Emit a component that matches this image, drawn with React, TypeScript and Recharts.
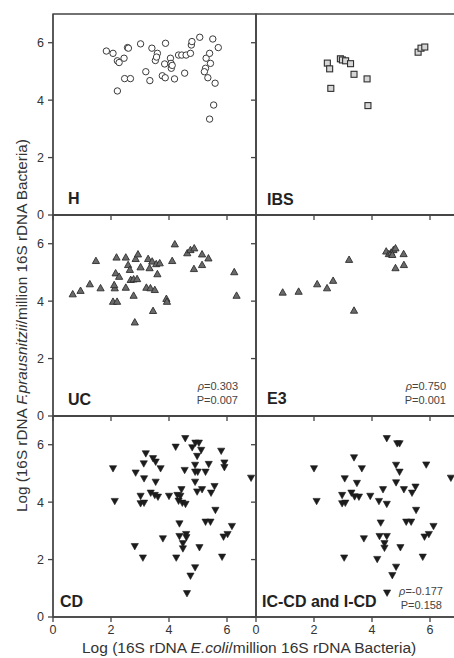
import React from 'react';
import { ScatterChart, Scatter, XAxis, YAxis, ReferenceArea } from 'recharts';

const X_TICKS = [0, 2, 4, 6];
const Y_TICKS = [0, 2, 4, 6];

const H_POINTS: [number, number][] = [
  [1.84, 5.71], [2.07, 5.63], [2.22, 5.37], [2.28, 5.31], [2.45, 5.46], [2.57, 5.83], [2.60, 5.81],
  [2.22, 4.32], [2.47, 4.75], [2.67, 4.75], [3.02, 5.96], [3.20, 4.99], [3.34, 4.68], [3.41, 5.81],
  [3.60, 5.63], [3.53, 5.38], [3.57, 5.50], [3.77, 4.85], [3.85, 5.26], [3.87, 4.78], [3.88, 5.98],
  [4.05, 5.46], [4.07, 5.28], [4.08, 5.11], [4.11, 5.21], [4.19, 4.74], [4.33, 5.57], [4.44, 5.57],
  [4.59, 5.57], [4.54, 4.94], [4.74, 5.63], [4.77, 5.92], [4.79, 6.04], [5.06, 6.19], [5.26, 5.11],
  [5.28, 5.46], [5.40, 5.63], [5.43, 5.28], [5.22, 4.99], [5.34, 4.78], [5.51, 6.13], [5.59, 4.59],
  [5.70, 5.83], [5.54, 3.83], [5.40, 3.34],
];

const IBS_POINTS: [number, number][] = [
  [2.46, 5.29], [2.54, 5.09], [2.58, 4.41], [2.91, 5.44], [2.98, 5.40], [3.09, 5.37], [3.26, 5.27],
  [3.38, 4.90], [3.83, 4.74], [3.86, 3.81], [5.59, 5.67], [5.69, 5.81], [5.82, 5.85],
];

const UC_POINTS: [number, number][] = [
  [0.68, 4.24], [0.95, 4.36], [1.27, 4.59], [1.48, 5.40], [1.64, 4.45], [2.07, 3.98], [2.21, 3.98],
  [2.13, 4.45], [2.11, 4.56], [2.16, 4.97], [2.28, 4.85], [2.19, 5.52], [2.51, 5.52], [2.51, 4.47],
  [2.59, 5.26], [2.65, 5.09], [2.68, 4.74], [2.78, 4.76], [2.78, 4.19], [2.82, 3.26], [2.85, 5.47],
  [2.93, 5.63], [3.02, 5.18], [2.90, 4.77], [3.22, 4.47], [3.28, 5.47], [3.33, 5.15], [3.42, 5.38],
  [3.36, 4.45], [3.51, 4.39], [3.45, 3.66], [3.56, 5.29], [3.68, 5.32], [3.60, 4.94], [3.91, 4.08],
  [3.93, 3.98], [4.11, 5.40], [4.20, 5.98], [4.63, 5.67], [4.74, 5.78], [4.87, 5.84], [4.86, 5.12],
  [5.14, 5.63], [5.36, 5.49], [5.14, 5.26], [6.25, 5.01], [6.33, 4.19],
];

const E3_POINTS: [number, number][] = [
  [0.92, 4.30], [1.47, 4.33], [2.11, 4.59], [2.45, 4.45], [2.66, 4.71], [3.21, 5.44], [3.38, 3.67],
  [4.49, 5.73], [4.58, 5.64], [4.66, 5.69], [4.74, 5.78], [4.81, 5.84], [4.70, 5.61], [5.09, 5.64],
  [4.81, 5.15], [5.10, 5.26],
];

const CD_POINTS: [number, number][] = [
  [2.07, 5.18], [2.13, 4.04], [2.82, 2.47], [2.85, 5.03], [3.10, 2.07], [3.02, 4.22], [3.02, 3.96],
  [3.14, 3.98], [3.13, 5.35], [3.14, 4.83], [3.20, 5.70], [3.37, 4.33], [3.45, 5.53], [3.51, 4.25],
  [3.54, 5.41], [3.54, 4.71], [3.62, 4.19], [3.71, 5.18], [3.79, 2.74], [4.00, 4.22], [4.23, 5.93],
  [4.25, 2.07], [4.29, 4.25], [4.33, 4.05], [4.36, 3.26], [4.36, 2.82], [4.39, 4.22], [4.43, 4.45],
  [4.46, 3.98], [4.48, 2.57], [4.48, 2.39], [4.54, 5.12], [4.56, 6.23], [4.57, 3.94], [4.59, 2.89],
  [4.60, 2.78], [4.62, 0.83], [4.74, 1.44], [4.80, 5.91], [4.90, 1.73], [4.91, 6.07], [5.03, 6.07],
  [4.97, 5.61], [4.90, 5.30], [4.90, 5.06], [4.99, 5.06], [5.11, 5.82], [4.90, 4.71], [4.97, 4.37],
  [5.05, 2.43], [5.14, 4.45], [5.26, 5.06], [5.37, 5.33], [5.26, 3.32], [5.43, 3.32], [5.45, 4.33],
  [5.57, 4.56], [5.60, 3.73], [5.80, 5.79], [5.83, 2.10], [5.88, 2.80], [5.91, 5.38], [5.91, 5.22],
  [6.02, 2.89], [6.17, 3.17], [6.83, 4.85],
];

const ICCD_POINTS: [number, number][] = [
  [2.00, 5.18], [2.09, 4.04], [3.04, 2.07], [2.97, 4.25], [2.97, 3.96], [3.08, 3.98], [3.06, 4.83],
  [3.29, 4.33], [3.38, 5.56], [3.40, 4.20], [3.48, 4.67], [3.55, 4.19], [3.65, 5.18], [3.72, 2.74],
  [3.94, 4.22], [4.18, 2.02], [4.24, 4.04], [4.30, 3.29], [4.26, 2.82], [4.38, 4.45], [4.51, 3.94],
  [4.51, 2.82], [4.43, 2.57], [4.43, 2.41], [4.51, 6.23], [4.70, 1.46], [4.83, 1.75], [4.83, 5.30],
  [4.87, 6.05], [4.95, 6.05], [4.95, 5.06], [4.83, 4.69], [4.98, 2.43], [5.10, 4.45], [5.18, 3.32],
  [5.35, 3.32], [5.38, 4.33], [5.50, 4.54], [5.52, 3.73], [5.81, 2.80], [5.75, 2.10], [5.87, 5.31],
  [5.96, 2.89], [6.12, 3.17], [6.72, 4.85], [4.52, 0.85],
];

const FONT = '"Liberation Sans", Arial, Helvetica, sans-serif';
const AXIS = '#444';
const PW = 203;
const PH = 201;
const COL_LEFT = [53, 256];
const ROW_TOP = [14, 215, 416];

const toData = (pts: [number, number][]) => pts.map(([x, y]) => ({ x, y }));

const circleShape = (p: any) => (
  <circle cx={p.cx} cy={p.cy} r={3.2} fill="#fff" stroke="#3a3a3a" strokeWidth={1} />
);
const squareShape = (p: any) => (
  <rect x={p.cx - 3} y={p.cy - 3} width={6} height={6} fill="#d6d6d6" stroke="#2e2e2e" strokeWidth={1.1} />
);
const triUpShape = (p: any) => (
  <polygon
    points={`${p.cx},${p.cy - 3.8} ${p.cx - 3.6},${p.cy + 2.6} ${p.cx + 3.6},${p.cy + 2.6}`}
    fill="#6a6a6a"
    stroke="#2e2e2e"
    strokeWidth={0.9}
  />
);
const triDownShape = (p: any) => (
  <polygon
    points={`${p.cx - 3.6},${p.cy - 2.6} ${p.cx + 3.6},${p.cy - 2.6} ${p.cx},${p.cy + 3.8}`}
    fill="#1c1c1c"
    stroke="#1c1c1c"
    strokeWidth={0.6}
  />
);

function Panel({ pts, shape, col, row, showY, showX }: any) {
  const YW = showY ? 53 : 8;
  const XH = showX ? 30 : 8;
  const left = COL_LEFT[col];
  const top = ROW_TOP[row];
  const tickStyle = { fontSize: 12.5, fill: '#333', fontFamily: FONT };
  return (
    <div style={{ position: 'absolute', left: left - YW, top: top - 2 }}>
      <ScatterChart width={YW + PW + 2} height={2 + PH + XH} margin={{ top: 2, right: 2, bottom: 0, left: 0 }}>
        <XAxis
          type="number"
          dataKey="x"
          domain={[0, 7]}
          ticks={X_TICKS}
          height={XH}
          tickSize={5}
          tickMargin={3}
          tick={tickStyle}
          tickFormatter={showX ? (v: number) => String(v) : () => ''}
          stroke={AXIS}
          strokeWidth={1.3}
          allowDataOverflow
        />
        <YAxis
          type="number"
          dataKey="y"
          domain={[0, 7]}
          ticks={Y_TICKS}
          width={YW}
          tickSize={5}
          tickMargin={4}
          tick={tickStyle}
          tickFormatter={showY ? (v: number) => String(v) : () => ''}
          stroke={AXIS}
          strokeWidth={1.3}
          allowDataOverflow
        />
        <ReferenceArea x1={0} x2={7} y1={0} y2={7} fill="none" stroke={AXIS} strokeWidth={1.3} ifOverflow="visible" />
        <Scatter data={toData(pts)} shape={shape} isAnimationActive={false} />
      </ScatterChart>
    </div>
  );
}

export default function App() {
  const lab = { fontFamily: FONT, fontWeight: 700, fontSize: 16, fill: '#222' } as const;
  const st = { fontFamily: FONT, fontSize: 11, fill: '#444' } as const;
  return (
    <div style={{ position: 'absolute', left: 0, top: 0, width: 454, height: 658, overflow: 'hidden', background: '#fff' }}>
      <Panel pts={H_POINTS} shape={circleShape} col={0} row={0} showY showX={false} />
      <Panel pts={IBS_POINTS} shape={squareShape} col={1} row={0} showY={false} showX={false} />
      <Panel pts={UC_POINTS} shape={triUpShape} col={0} row={1} showY showX={false} />
      <Panel pts={E3_POINTS} shape={triUpShape} col={1} row={1} showY={false} showX={false} />
      <Panel pts={CD_POINTS} shape={triDownShape} col={0} row={2} showY showX />
      <Panel pts={ICCD_POINTS} shape={triDownShape} col={1} row={2} showY={false} showX />
      <svg width={454} height={658} style={{ position: 'absolute', left: 0, top: 0, pointerEvents: 'none' }}>
        <text x={68} y={204} {...lab}>H</text>
        <text x={267} y={205} {...lab}>IBS</text>
        <text x={68} y={405} {...lab}>UC</text>
        <text x={267} y={404} {...lab}>E3</text>
        <text x={60} y={607} {...lab}>CD</text>
        <text x={262} y={607} {...lab}>IC-CD and I-CD</text>

        <text x={238} y={390} textAnchor="end" {...st}><tspan fontStyle="italic">ρ</tspan>=0.303</text>
        <text x={238} y={404} textAnchor="end" {...st}>P=0.007</text>
        <text x={446} y={390} textAnchor="end" {...st}><tspan fontStyle="italic">ρ</tspan>=0.750</text>
        <text x={446} y={404} textAnchor="end" {...st}>P=0.001</text>
        <text x={443} y={595} textAnchor="end" {...st}><tspan fontStyle="italic">ρ</tspan>=-0.177</text>
        <text x={442} y={609} textAnchor="end" {...st}>P=0.158</text>

        <text x={82} y={653} fontFamily={FONT} fontSize={15.5} fill="#333">
          Log (16S rDNA <tspan fontStyle="italic">E.coli</tspan>/million 16S rDNA Bacteria)
        </text>
        <text transform="rotate(-90)" x={-512} y={27} fontFamily={FONT} fontSize={15.3} fill="#333">
          Log (16S rDNA <tspan fontStyle="italic">F.prausnitzii</tspan>/million 16S rDNA Bacteria)
        </text>
      </svg>
    </div>
  );
}
